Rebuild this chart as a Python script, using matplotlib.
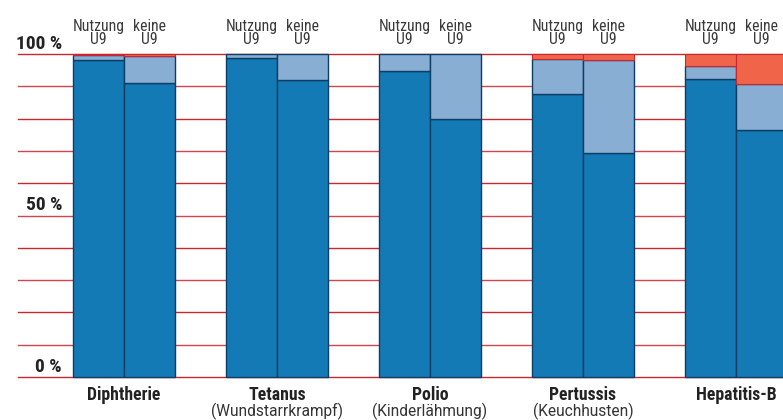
import matplotlib
matplotlib.use("Agg")
import matplotlib.pyplot as plt
import numpy as np

plt.rcParams['font.family'] = ['Roboto Condensed', 'DejaVu Sans Condensed', 'Roboto', 'DejaVu Sans']

categories = ["Diphtherie", "Tetanus", "Polio", "Pertussis", "Hepatitis-B"]
subtitles = ["", "(Wundstarrkrampf)", "(Kinderlähmung)", "(Keuchhusten)", ""]
bar_labels = ["Nutzung\nU9", "keine\nU9"]

# shares in percent: [Nutzung U9, keine U9]
geimpft = [[98.1, 91.1], [98.8, 92.0], [94.8, 80.0], [87.6, 69.5], [92.2, 76.5]]
teilweise = [[1.6, 8.4], [1.2, 8.0], [5.2, 20.0], [11.0, 28.7], [4.2, 14.2]]
ungeimpft = [[0.3, 0.5], [0.0, 0.0], [0.0, 0.0], [1.4, 1.8], [3.6, 9.3]]

yticks = [0, 50, 100]
ytick_labels = ["0 %", "50 %", "100 %"]

c_dark = "#137ab5"
c_light = "#89aed4"
c_red = "#f0654a"
c_edge = "#0e3d66"
c_grid = "#c8282d"

W, H = 783, 420
fig = plt.figure(figsize=(W / 100, H / 100), dpi=100)
px_left, px_right = 18, 783
px_top, px_bottom = 54, 377
ax = fig.add_axes([px_left / W, (H - px_bottom) / H, (px_right - px_left) / W, (px_bottom - px_top) / H])
unit = 51.0
c0 = 98.5
ax.set_xlim(-(c0 - px_left) / unit, (px_right - c0) / unit)
ax.set_ylim(0, 100)
ax.axis('off')

# gridlines
for v in range(0, 101, 10):
    ax.axhline(v, color=c_grid, lw=1.0, alpha=0.85 if v % 20 else 1.0, zorder=1, clip_on=False)

for i, cat in enumerate(categories):
    for j in range(2):
        x = i * 3 + j
        g = geimpft[i][j]
        t = teilweise[i][j]
        u = ungeimpft[i][j]
        kw = dict(width=1.0, edgecolor=c_edge, linewidth=1.0, zorder=3, clip_on=False)
        ax.bar(x, g, bottom=0, color=c_dark, **kw)
        ax.bar(x, t, bottom=g, color=c_light, **kw)
        if u > 0:
            ax.bar(x, u, bottom=g + t, color=c_red, edgecolor="#c8282d", linewidth=0.8,
                   width=1.0, zorder=3, clip_on=False)
        ax.text(x, 102.3, bar_labels[j], ha='center', va='bottom', fontsize=11.3,
                color="#3a3a3a", linespacing=0.76, clip_on=False)
    gx = i * 3 + 0.5
    ax.text(gx, -2.9, cat, ha='center', va='top', fontsize=12.8, fontweight='bold',
            color="#222222", clip_on=False)
    if subtitles[i]:
        ax.text(gx, -8.0, subtitles[i], ha='center', va='top', fontsize=11.2,
                family=['Roboto', 'DejaVu Sans'],
                color="#333333", clip_on=False)

xl = ax.get_xlim()[0] + (62 - px_left) / unit
for v, lab in zip(yticks, ytick_labels):
    ax.text(xl, v + 0.4, lab, ha='right', va='bottom', fontsize=14, fontweight='bold',
            color="#222222", clip_on=False)

fig.savefig("out.png", dpi=100)
